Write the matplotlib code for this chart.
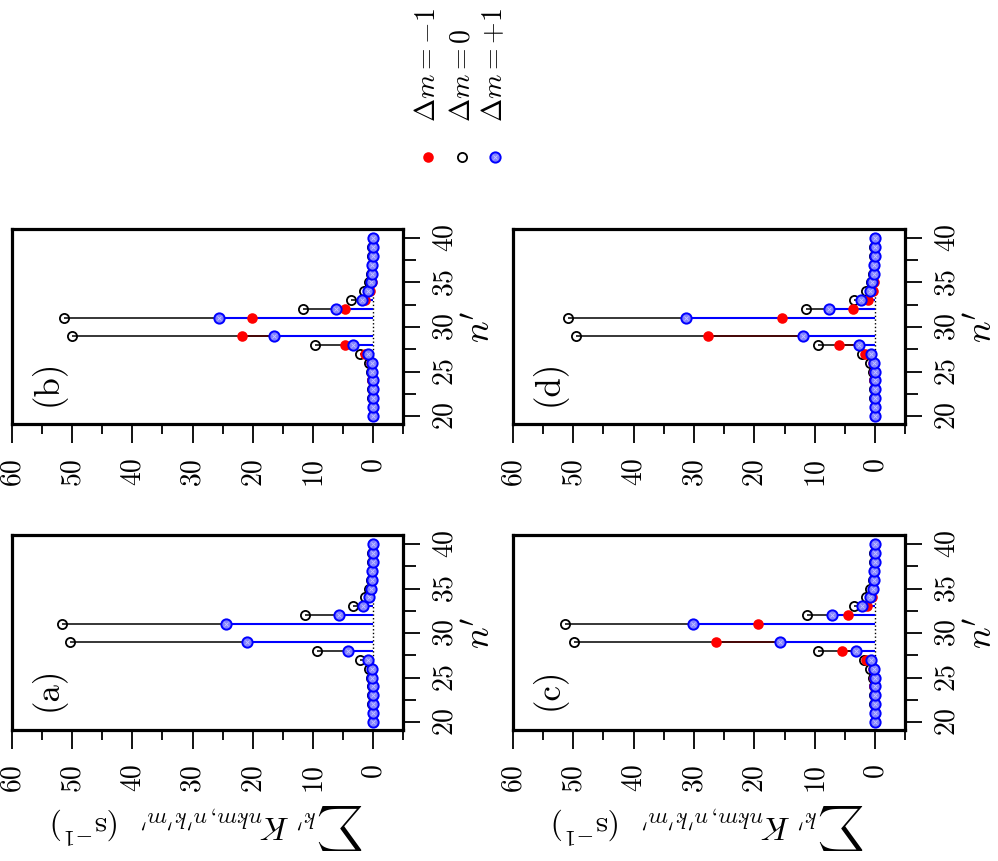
import numpy as np
import matplotlib
matplotlib.use("Agg")
import matplotlib.pyplot as plt
from matplotlib.ticker import MultipleLocator

plt.rcParams['font.family'] = 'serif'
plt.rcParams['font.serif'] = ['cmr10', 'DejaVu Serif']
plt.rcParams['mathtext.fontset'] = 'cm'
plt.rcParams['axes.formatter.use_mathtext'] = True

# n' values (n' = 30 is the initial level, no point)
n_prime = np.arange(20, 41)
nan = np.nan

# panel (a)
dm0_a = [0.05, 0.05, 0.1, 0.1, 0.2, 0.3, 0.7, 2.1, 9.4, 50.4, nan, 51.7, 11.3, 3.4, 1.4, 0.7, 0.4, 0.2, 0.1, 0.1, 0.05]
dmm_a = [0, 0, 0, 0, 0, 0, 0, 0, 0, 0, nan, 0, 0, 0, 0, 0, 0, 0, 0, 0, 0]
dmp_a = [0.02, 0.02, 0.03, 0.05, 0.08, 0.1, 0.2, 0.9, 4.2, 20.9, nan, 24.4, 5.6, 1.7, 0.7, 0.4, 0.2, 0.1, 0.05, 0.05, 0.03]

# panel (b)
dm0_b = [0.05, 0.05, 0.1, 0.1, 0.2, 0.3, 0.7, 2.2, 9.7, 50.0, nan, 51.3, 11.6, 3.6, 1.5, 0.7, 0.4, 0.2, 0.1, 0.1, 0.05]
dmm_b = [0.02, 0.03, 0.05, 0.08, 0.1, 0.2, 0.4, 1.3, 4.7, 21.7, nan, 20.1, 4.7, 1.3, 0.5, 0.2, 0.1, 0.1, 0.05, 0.03, 0.02]
dmp_b = [0.02, 0.02, 0.03, 0.05, 0.08, 0.1, 0.2, 0.8, 3.4, 16.5, nan, 25.6, 6.1, 1.9, 0.8, 0.4, 0.2, 0.1, 0.05, 0.05, 0.03]

# panel (c)
dm0_c = [0.05, 0.05, 0.1, 0.1, 0.2, 0.3, 0.8, 1.9, 9.4, 49.9, nan, 51.4, 11.3, 3.4, 1.5, 0.8, 0.4, 0.2, 0.1, 0.1, 0.05]
dmm_c = [0.02, 0.03, 0.05, 0.08, 0.1, 0.2, 0.4, 1.5, 5.5, 26.4, nan, 19.4, 4.5, 1.3, 0.5, 0.3, 0.1, 0.1, 0.05, 0.03, 0.02]
dmp_c = [0.02, 0.02, 0.03, 0.04, 0.05, 0.08, 0.1, 0.6, 3.2, 15.8, nan, 30.1, 7.1, 2.2, 0.9, 0.4, 0.2, 0.1, 0.05, 0.05, 0.03]

# panel (d)
dm0_d = [0.05, 0.05, 0.1, 0.1, 0.2, 0.3, 0.9, 2.1, 9.5, 49.6, nan, 50.9, 11.5, 3.5, 1.5, 0.7, 0.4, 0.2, 0.1, 0.1, 0.05]
dmm_d = [0.02, 0.03, 0.05, 0.08, 0.1, 0.2, 0.4, 1.6, 6.0, 27.6, nan, 15.4, 3.6, 1.2, 0.4, 0.2, 0.1, 0.1, 0.05, 0.03, 0.02]
dmp_d = [0.02, 0.02, 0.03, 0.04, 0.05, 0.08, 0.1, 0.6, 2.6, 11.9, nan, 31.3, 7.6, 2.4, 0.9, 0.5, 0.2, 0.1, 0.05, 0.05, 0.03]

panel_tags = ['(a)', '(b)', '(c)', '(d)']
legend_labels = [r'$\Delta m=-1$', r'$\Delta m=0$', r'$\Delta m=+1$']

panels = {
    '(a)': (dmm_a, dm0_a, dmp_a),
    '(b)': (dmm_b, dm0_b, dmp_b),
    '(c)': (dmm_c, dm0_c, dmp_c),
    '(d)': (dmm_d, dm0_d, dmp_d),
}

# axes rectangles (figure fraction) - the figure is shown turned a quarter turn
rects = {
    '(b)': [0.012, 0.5075, 0.392, 0.2265],
    '(d)': [0.514, 0.5075, 0.393, 0.2265],
    '(a)': [0.012, 0.152, 0.392, 0.2265],
    '(c)': [0.514, 0.152, 0.393, 0.2265],
}

RED = '#ff0000'
BLUE = '#0000ff'
BLUE_FACE = '#8080ff'


def draw_points(ax, x, y, kind):
    if kind == 'm':
        ax.plot(x, y, 'o', ms=7.6, mfc=RED, mec=RED, mew=0, zorder=4, clip_on=False)
    elif kind == '0':
        ax.plot(x, y, 'o', ms=6.6, mfc='none', mec='black', mew=1.3, zorder=3, clip_on=False)
    else:
        ax.plot(x, y, 'o', ms=7.4, mfc=BLUE_FACE, mec=BLUE, mew=1.4, zorder=5, clip_on=False)
        ax.plot(x, y, 'x', ms=2.8, mec='white', mew=0.6, alpha=0.55, zorder=6, clip_on=False)


fig = plt.figure(figsize=(9.98, 8.61), dpi=100)

for tag in panel_tags:
    dmm, dm0, dmp = [np.array(v, dtype=float) for v in panels[tag]]
    ax = fig.add_axes(rects[tag])

    ok = ~np.isnan(dm0)
    zeros = np.zeros(ok.sum())
    ax.plot(np.zeros(len(n_prime)), n_prime, ls=':', color='black', lw=1.0, zorder=1)
    ax.hlines(n_prime[ok], zeros, dm0[ok], color='black', lw=1.1, zorder=2)
    ax.hlines(n_prime[ok], zeros, dmm[ok], color='#4a0000', lw=1.2, zorder=2.1)
    ax.hlines(n_prime[ok], zeros, dmp[ok], color=BLUE, lw=1.5, zorder=2.2)

    draw_points(ax, dm0[ok], n_prime[ok], '0')
    if np.nansum(dmm) > 0:
        draw_points(ax, dmm[ok], n_prime[ok], 'm')
    draw_points(ax, dmp[ok], n_prime[ok], 'p')

    ax.set_xlim(60, -5)
    ax.set_ylim(19.1, 41.0)

    ax.xaxis.set_minor_locator(MultipleLocator(5))
    ax.yaxis.set_major_locator(MultipleLocator(5))
    ax.yaxis.set_minor_locator(MultipleLocator(2.5))
    ax.set_xticks([60, 50, 40, 30, 20, 10, 0])
    ax.set_xticklabels(['60', '50', '40', '30', '20', '10', '0'])

    ax.yaxis.tick_right()
    ax.tick_params(axis='x', which='major', length=14, width=1.3, pad=10,
                   labelsize=20, labelrotation=90, direction='out')
    ax.tick_params(axis='x', which='minor', length=7, width=1.3, direction='out')
    ax.tick_params(axis='y', which='major', length=12, width=1.3, pad=9,
                   labelsize=20, labelrotation=90, direction='out',
                   left=False, right=True, labelleft=False, labelright=True)
    ax.tick_params(axis='y', which='minor', length=9, width=1.3, direction='out',
                   left=False, right=True)
    for lab in ax.get_yticklabels():
        lab.set_verticalalignment('center')

    for sp in ax.spines.values():
        sp.set_linewidth(2.3)

    ax.yaxis.set_label_position('right')
    ax.set_ylabel(r"$n^\prime$", fontsize=26, rotation=90, labelpad=4)

    if tag in ('(a)', '(c)'):
        ax.set_xlabel(r"$\sum{}_{k^\prime}\, K_{nkm,n^\prime k^\prime m^\prime}\ \ (\mathrm{s}^{-1})$",
                      fontsize=23, rotation=180, labelpad=8)

    ax.text(0.09, 0.21, tag, transform=ax.transAxes, fontsize=25,
            rotation=90, ha='center', va='center')

# legend, drawn turned like the rest of the figure
leg_x = [428 / 998, 462 / 998, 495 / 998]
leg_kinds = ['m', '0', 'p']
lax = fig.add_axes([0, 0, 1, 1])
lax.set_xlim(0, 1)
lax.set_ylim(0, 1)
lax.axis('off')
for x, kind, lab in zip(leg_x, leg_kinds, legend_labels):
    draw_points(lax, [x], [1 - 157 / 861], kind)
    lax.text(x, 1 - 122 / 861, lab, fontsize=20, rotation=90, ha='center', va='bottom')

fig.savefig('out.png', dpi=100)
